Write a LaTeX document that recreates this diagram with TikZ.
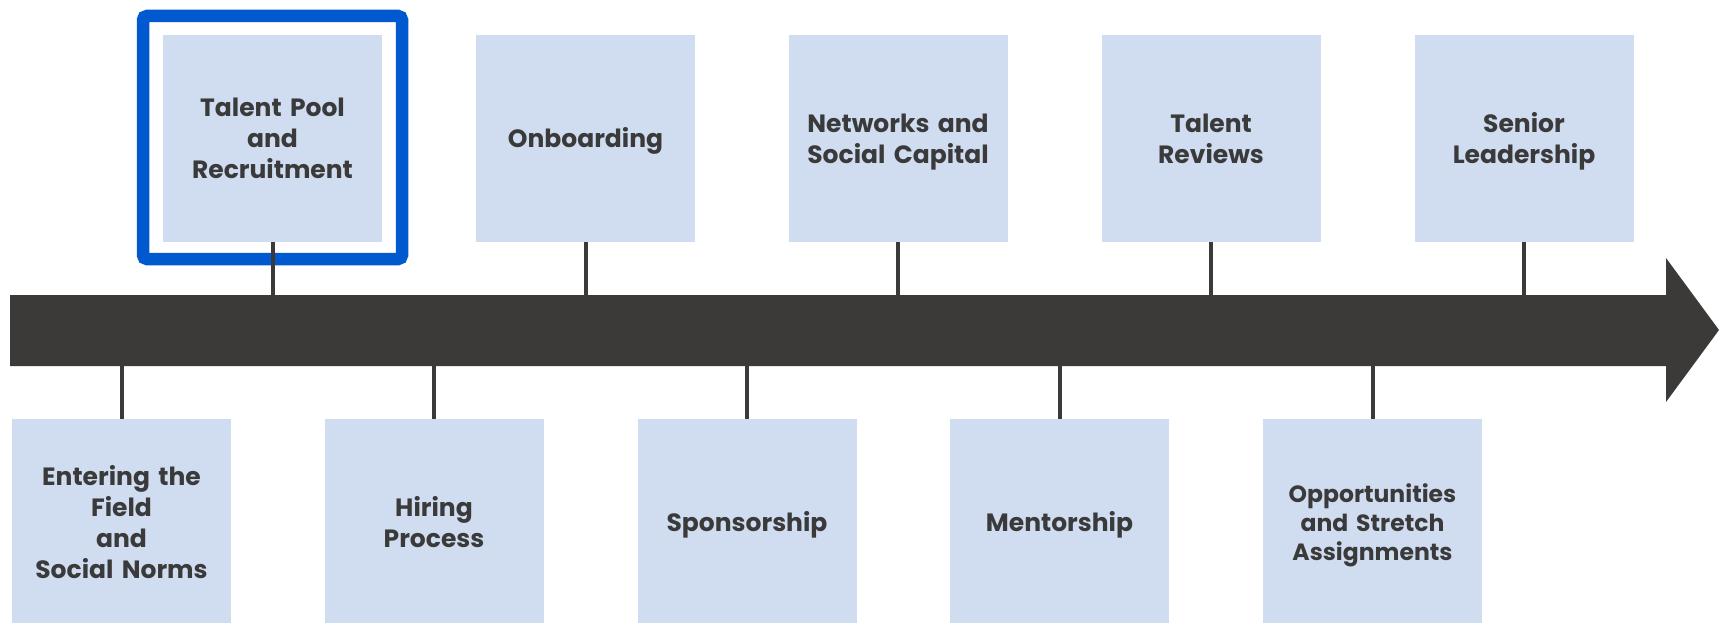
\documentclass[tikz,border=0pt]{standalone}
\usepackage{fontspec}
\setmainfont{Poppins}

\definecolor{stagefill}{RGB}{208,221,240}
\definecolor{barcolor}{RGB}{59,58,56}
\definecolor{markblue}{RGB}{0,89,207}
\definecolor{labeltext}{RGB}{58,58,58}

% struts that fix the first-line height and last-line depth of a label
\newcommand{\topstrut}{\rule{0pt}{28pt}}
\newcommand{\botstrut}{\rule[-9.2pt]{0pt}{9.2pt}}

\tikzset{
  stage/.style={fill=stagefill, minimum width=219pt, minimum height=207pt,
    inner sep=0pt, text width=215pt, align=center, text=labeltext,
    font=\bfseries\fontsize{25}{31}\selectfont,
    execute at begin node=\topstrut, execute at end node=\botstrut},
  small/.style={font=\bfseries\fontsize{23.5}{29}\selectfont},
  tick/.style={draw=barcolor, line width=4pt},
}

\begin{document}
\begin{tikzpicture}[x=1pt,y=-1pt]
\useasboundingbox (0,0) rectangle (1719,623);

% frame around the highlighted stage
\draw[markblue, line width=12.5pt, rounded corners=4pt] (143,16) rectangle (402,259);

% the timeline arrow
\fill[barcolor] (10,295) -- (1666,295) -- (1666,258) -- (1719,330)
  -- (1666,402) -- (1666,366) -- (10,366) -- cycle;
\coordinate (bartop) at (0,295);
\coordinate (barbot) at (0,366);

% stages above the line
\node[stage] (talent)  at (272.5,138.5) {Talent Pool\\and\\Recruitment};
\node[stage] (onboard) at (585.5,138.5) {Onboarding};
\node[stage] (network) at (898,138.5)   {Networks and\\Social Capital};
\node[stage] (review)  at (1211,138.5)  {Talent\\Reviews};
\node[stage] (senior)  at (1524,138.5)  {Senior\\Leadership};

% stages below the line
\node[stage] (field)   at (121.5,522.5) {Entering the\\Field\\and\\Social Norms};
\node[stage] (hiring)  at (434,522.5)   {Hiring\\Process};
\node[stage] (sponsor) at (747,522.5)   {Sponsorship};
\node[stage] (mentor)  at (1059.5,522.5) {Mentorship};
\node[stage, small] (stretch) at (1372.5,522.5) {Opportunities\\and Stretch\\Assignments};

% ticks joining each stage to the line
\draw[tick] (talent.south)  -- (talent.south |- bartop);
\draw[tick] (onboard.south) -- (onboard.south |- bartop);
\draw[tick] (network.south) -- (network.south |- bartop);
\draw[tick] (review.south)  -- (review.south |- bartop);
\draw[tick] (senior.south)  -- (senior.south |- bartop);
\draw[tick] (field.north)   -- (field.north |- barbot);
\draw[tick] (hiring.north)  -- (hiring.north |- barbot);
\draw[tick] (sponsor.north) -- (sponsor.north |- barbot);
\draw[tick] (mentor.north)  -- (mentor.north |- barbot);
\draw[tick] (stretch.north) -- (stretch.north |- barbot);
\end{tikzpicture}
\end{document}
